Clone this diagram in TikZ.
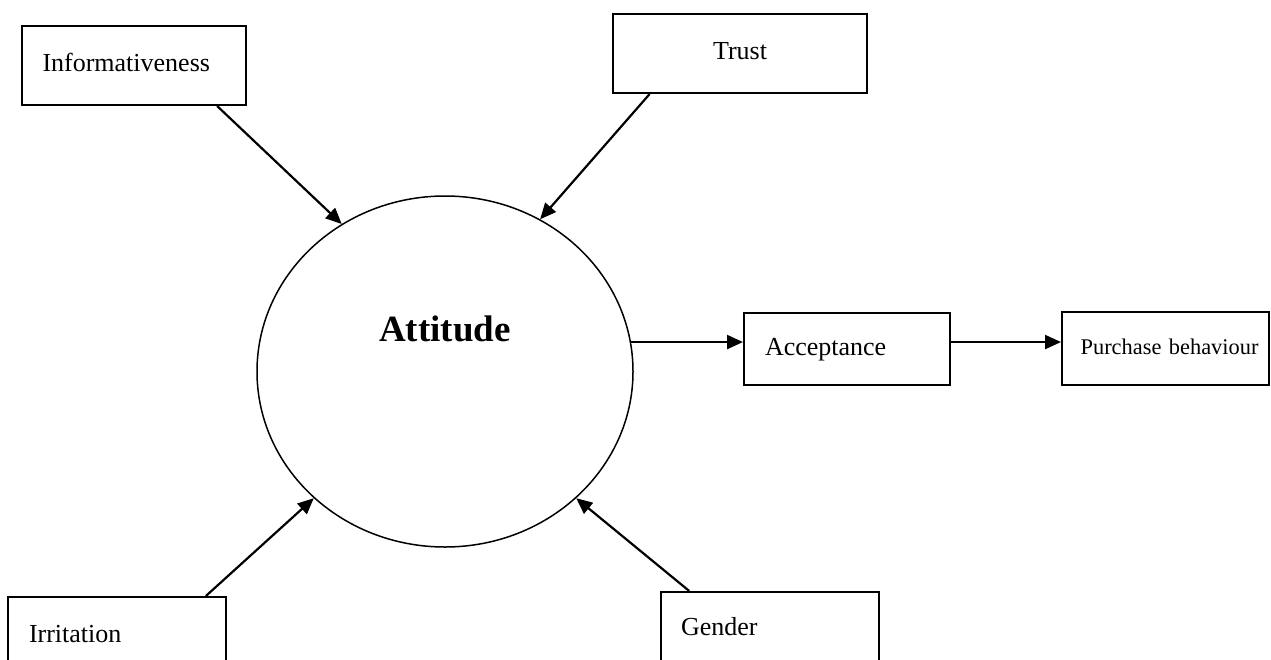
\documentclass[tikz,border=0pt]{standalone}
\usepackage{fontspec}
\setmainfont{Liberation Serif}
\usetikzlibrary{shapes.geometric,arrows.meta,calc}
\begin{document}
\begin{tikzpicture}[x=1pt,y=-1pt,
  box/.style={draw, line width=2pt, rectangle, inner xsep=21pt, inner ysep=0pt,
    align=left, font=\fontsize{26}{30}\selectfont, text height=18pt, text depth=6pt},
  arr/.style={line width=2.2pt, -{Triangle[length=16pt,width=14pt]}},
  attstyle/.style={draw, ellipse, line width=1.5pt, inner sep=0pt,
    font=\bfseries\fontsize{37}{40}\selectfont, text height=26pt, text depth=86pt}
]
\clip (0,0) rectangle (1271,659);
\fill[white] (0,0) rectangle (1271,659);

\node[attstyle, minimum width=376pt, minimum height=351pt] (att) at (445,371.5) {Attitude};

\node[box, text width=182pt, minimum height=79pt] (info) at (133.5,65.5) {Informativeness};
\node[box, align=center, text width=212pt, minimum height=79pt] (trust) at (740,53.5) {Trust};
\node[box, text width=164pt, minimum height=72pt] (acc) at (847,349) {Acceptance};
\node[box, align=right, inner xsep=10.5pt, text width=186pt, minimum height=73pt,
      font=\fontsize{22.4}{26}\selectfont] (pur) at (1165.5,348.5) {Purchase behaviour};
\node[box, text width=176pt, minimum height=78pt] (irr) at (117,636) {Irritation};
\node[box, text width=178pt, minimum height=74pt, inner xsep=20pt] (gen) at (770,629) {Gender};

\coordinate (infoS) at ($(info.south west)!0.87!(info.south east)$);
\coordinate (trustS) at ($(trust.south west)!0.147!(trust.south east)$);
\coordinate (irrS) at ($(irr.north west)!0.904!(irr.north east)$);
\coordinate (genS) at ($(gen.north west)!0.133!(gen.north east)$);
\coordinate (attE) at (att.9.4);

\draw[arr] (infoS) -- (att.125.5);
\draw[arr] (trustS) -- (att.58.5);
\draw[arr] (irrS) -- (att.224.7);
\draw[arr] (genS) -- (att.316.7);
\draw[arr] (attE) -- (attE -| acc.west);
\draw[arr] (attE -| acc.east) -- (attE -| pur.west);
\end{tikzpicture}
\end{document}
